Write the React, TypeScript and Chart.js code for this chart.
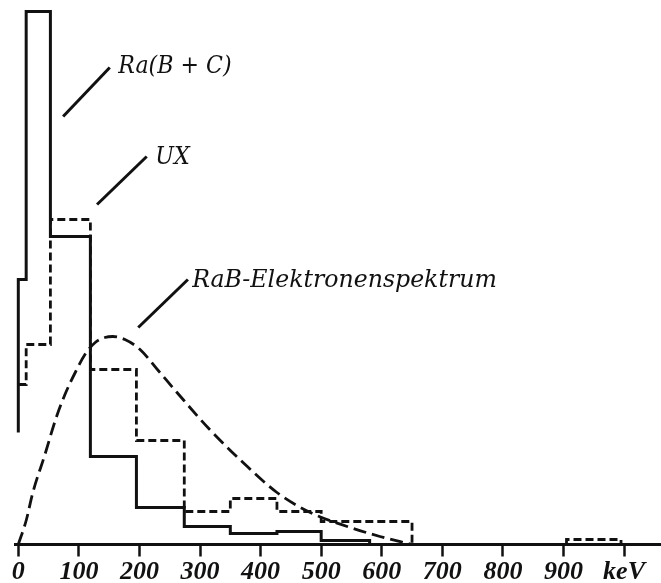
import React, { useEffect, useRef } from "react";
import { Chart, registerables } from "chart.js";

Chart.register(...registerables);

// ---- data (energies in keV, intensities in arbitrary relative units) ----
const tickValues = [0, 100, 200, 300, 400, 500, 600, 700, 800, 900, 1000];
const tickLabels = ["0", "100", "200", "300", "400", "500", "600", "700", "800", "900", "keV"];

// Ra(B+C) histogram (solid): bin edges and bin heights
const raEdges = [0, 13, 53, 119, 195, 274, 350, 427, 500, 580];
const raHeights = [265, 533, 308, 88, 37, 18, 11, 13, 4];
const raLeftStart = 112;

// UX histogram (dashed)
const uxEdges = [0, 13, 53, 119, 195, 274, 350, 427, 500, 650];
const uxHeights = [160, 200, 325, 175, 104, 33, 46, 33, 23];
const uxTailEdges = [905, 995];
const uxTailHeights = [5];

// RaB electron spectrum (dashed curve)
const spectrumEnergy = [0, 13, 24, 44, 61, 77, 94, 110, 127, 143, 156, 176, 201, 231, 262, 316, 371, 427, 482, 543, 597, 650];
const spectrumIntensity = [0, 24, 52, 90, 124, 150, 172, 190, 202, 207, 208, 205, 195, 174, 152, 115, 82, 52, 32, 18, 8, 0];

// label texts
const labelTexts = ["Ra(B + C)", "UX", "RaB-Elektronenspektrum"];

// ---- layout of annotations (in data coordinates) ----
const annotationLayout = [
  { from: [74, 428], to: [151, 477], textX: 165, textEndX: 352, textY: 472 },
  { from: [130, 340], to: [212, 388], textX: 226, textEndX: 283, textY: 381 },
  { from: [198, 217], to: [280, 265], textX: 287, textEndX: 790, textY: 258 },
];

const INK = "#111111";

function histogramPoints(edges: number[], heights: number[]) {
  return edges.map((e, i) => ({ x: e, y: i < heights.length ? heights[i] : 0 }));
}

const raData = [{ x: raEdges[0], y: raLeftStart }, ...histogramPoints(raEdges, raHeights)];
const uxData = [
  ...histogramPoints(uxEdges, uxHeights),
  { x: (uxEdges[uxEdges.length - 1] + uxTailEdges[0]) / 2, y: null as any },
  { x: uxTailEdges[0], y: 0 },
  ...histogramPoints(uxTailEdges, uxTailHeights),
];
const spectrumData = spectrumEnergy.map((e, i) => ({ x: e, y: spectrumIntensity[i] }));

const annotationPlugin = {
  id: "labels",
  afterDatasetsDraw(chart: any) {
    const { ctx, scales } = chart;
    const xs = scales.x;
    const ys = scales.y;
    ctx.save();
    ctx.strokeStyle = INK;
    ctx.fillStyle = INK;
    ctx.lineWidth = 3;
    ctx.lineCap = "butt";
    ctx.setLineDash([]);
    annotationLayout.forEach((a, i) => {
      ctx.beginPath();
      ctx.moveTo(xs.getPixelForValue(a.from[0]), ys.getPixelForValue(a.from[1]));
      ctx.lineTo(xs.getPixelForValue(a.to[0]), ys.getPixelForValue(a.to[1]));
      ctx.stroke();
      ctx.font = 'italic 25px "DejaVu Serif"';
      ctx.textBaseline = "alphabetic";
      ctx.textAlign = "left";
      const text = labelTexts[i];
      const w = ctx.measureText(text).width;
      const x0 = xs.getPixelForValue(a.textX);
      const x1 = xs.getPixelForValue(a.textEndX);
      const sx = (x1 - x0) / w;
      ctx.save();
      ctx.translate(x0, ys.getPixelForValue(a.textY));
      ctx.scale(sx, 1);
      ctx.fillText(text, 0, 0);
      ctx.restore();
    });
    ctx.restore();
  },
};

export default function App() {
  const ref = useRef<HTMLCanvasElement>(null);
  useEffect(() => {
    const chart = new Chart(ref.current as HTMLCanvasElement, {
      type: "line",
      data: {
        datasets: [
          {
            label: "Ra(B + C)",
            data: raData as any,
            stepped: true,
            borderColor: INK,
            borderWidth: 3,
            pointRadius: 0,
            fill: false,
            borderJoinStyle: "miter",
          },
          {
            label: "UX",
            data: uxData as any,
            stepped: true,
            borderColor: INK,
            borderWidth: 2.8,
            borderDash: [8, 4],
            pointRadius: 0,
            fill: false,
            spanGaps: false,
            borderJoinStyle: "miter",
          },
          {
            label: "RaB-Elektronenspektrum",
            data: spectrumData as any,
            borderColor: INK,
            borderWidth: 2.8,
            borderDash: [13, 6],
            pointRadius: 0,
            fill: false,
            cubicInterpolationMode: "monotone",
          },
        ],
      },
      options: {
        animation: false,
        responsive: true,
        maintainAspectRatio: false,
        devicePixelRatio: 1,
        layout: { padding: { left: 15, right: 0, top: 0, bottom: -5.5 } },
        plugins: { legend: { display: false }, tooltip: { enabled: false } },
        scales: {
          x: {
            type: "linear",
            min: -5.45,
            max: 1061,
            afterBuildTicks: (scale: any) => {
              scale.ticks = tickValues.map((v) => ({ value: v }));
            },
            ticks: {
              autoSkip: false,
              maxRotation: 0,
              padding: 3,
              color: INK,
              font: { family: '"Liberation Serif"', style: "italic", weight: "bold", size: 26, lineHeight: 1 },
              callback: (v: any) => {
                const i = tickValues.indexOf(Number(v));
                return i >= 0 ? tickLabels[i] : "";
              },
            },
            grid: {
              display: true,
              drawOnChartArea: false,
              drawTicks: true,
              tickLength: 12,
              tickColor: INK,
              tickWidth: 2.5,
            },
            border: { display: true, color: INK, width: 3 },
          },
          y: {
            display: false,
            min: 0,
            max: 544.5,
          },
        },
      },
      plugins: [annotationPlugin],
    } as any);
    return () => chart.destroy();
  }, []);
  return (
    <div style={{ position: "fixed", left: 0, top: 0, width: 661, height: 583, background: "#fff" }}>
      <canvas ref={ref} />
    </div>
  );
}
